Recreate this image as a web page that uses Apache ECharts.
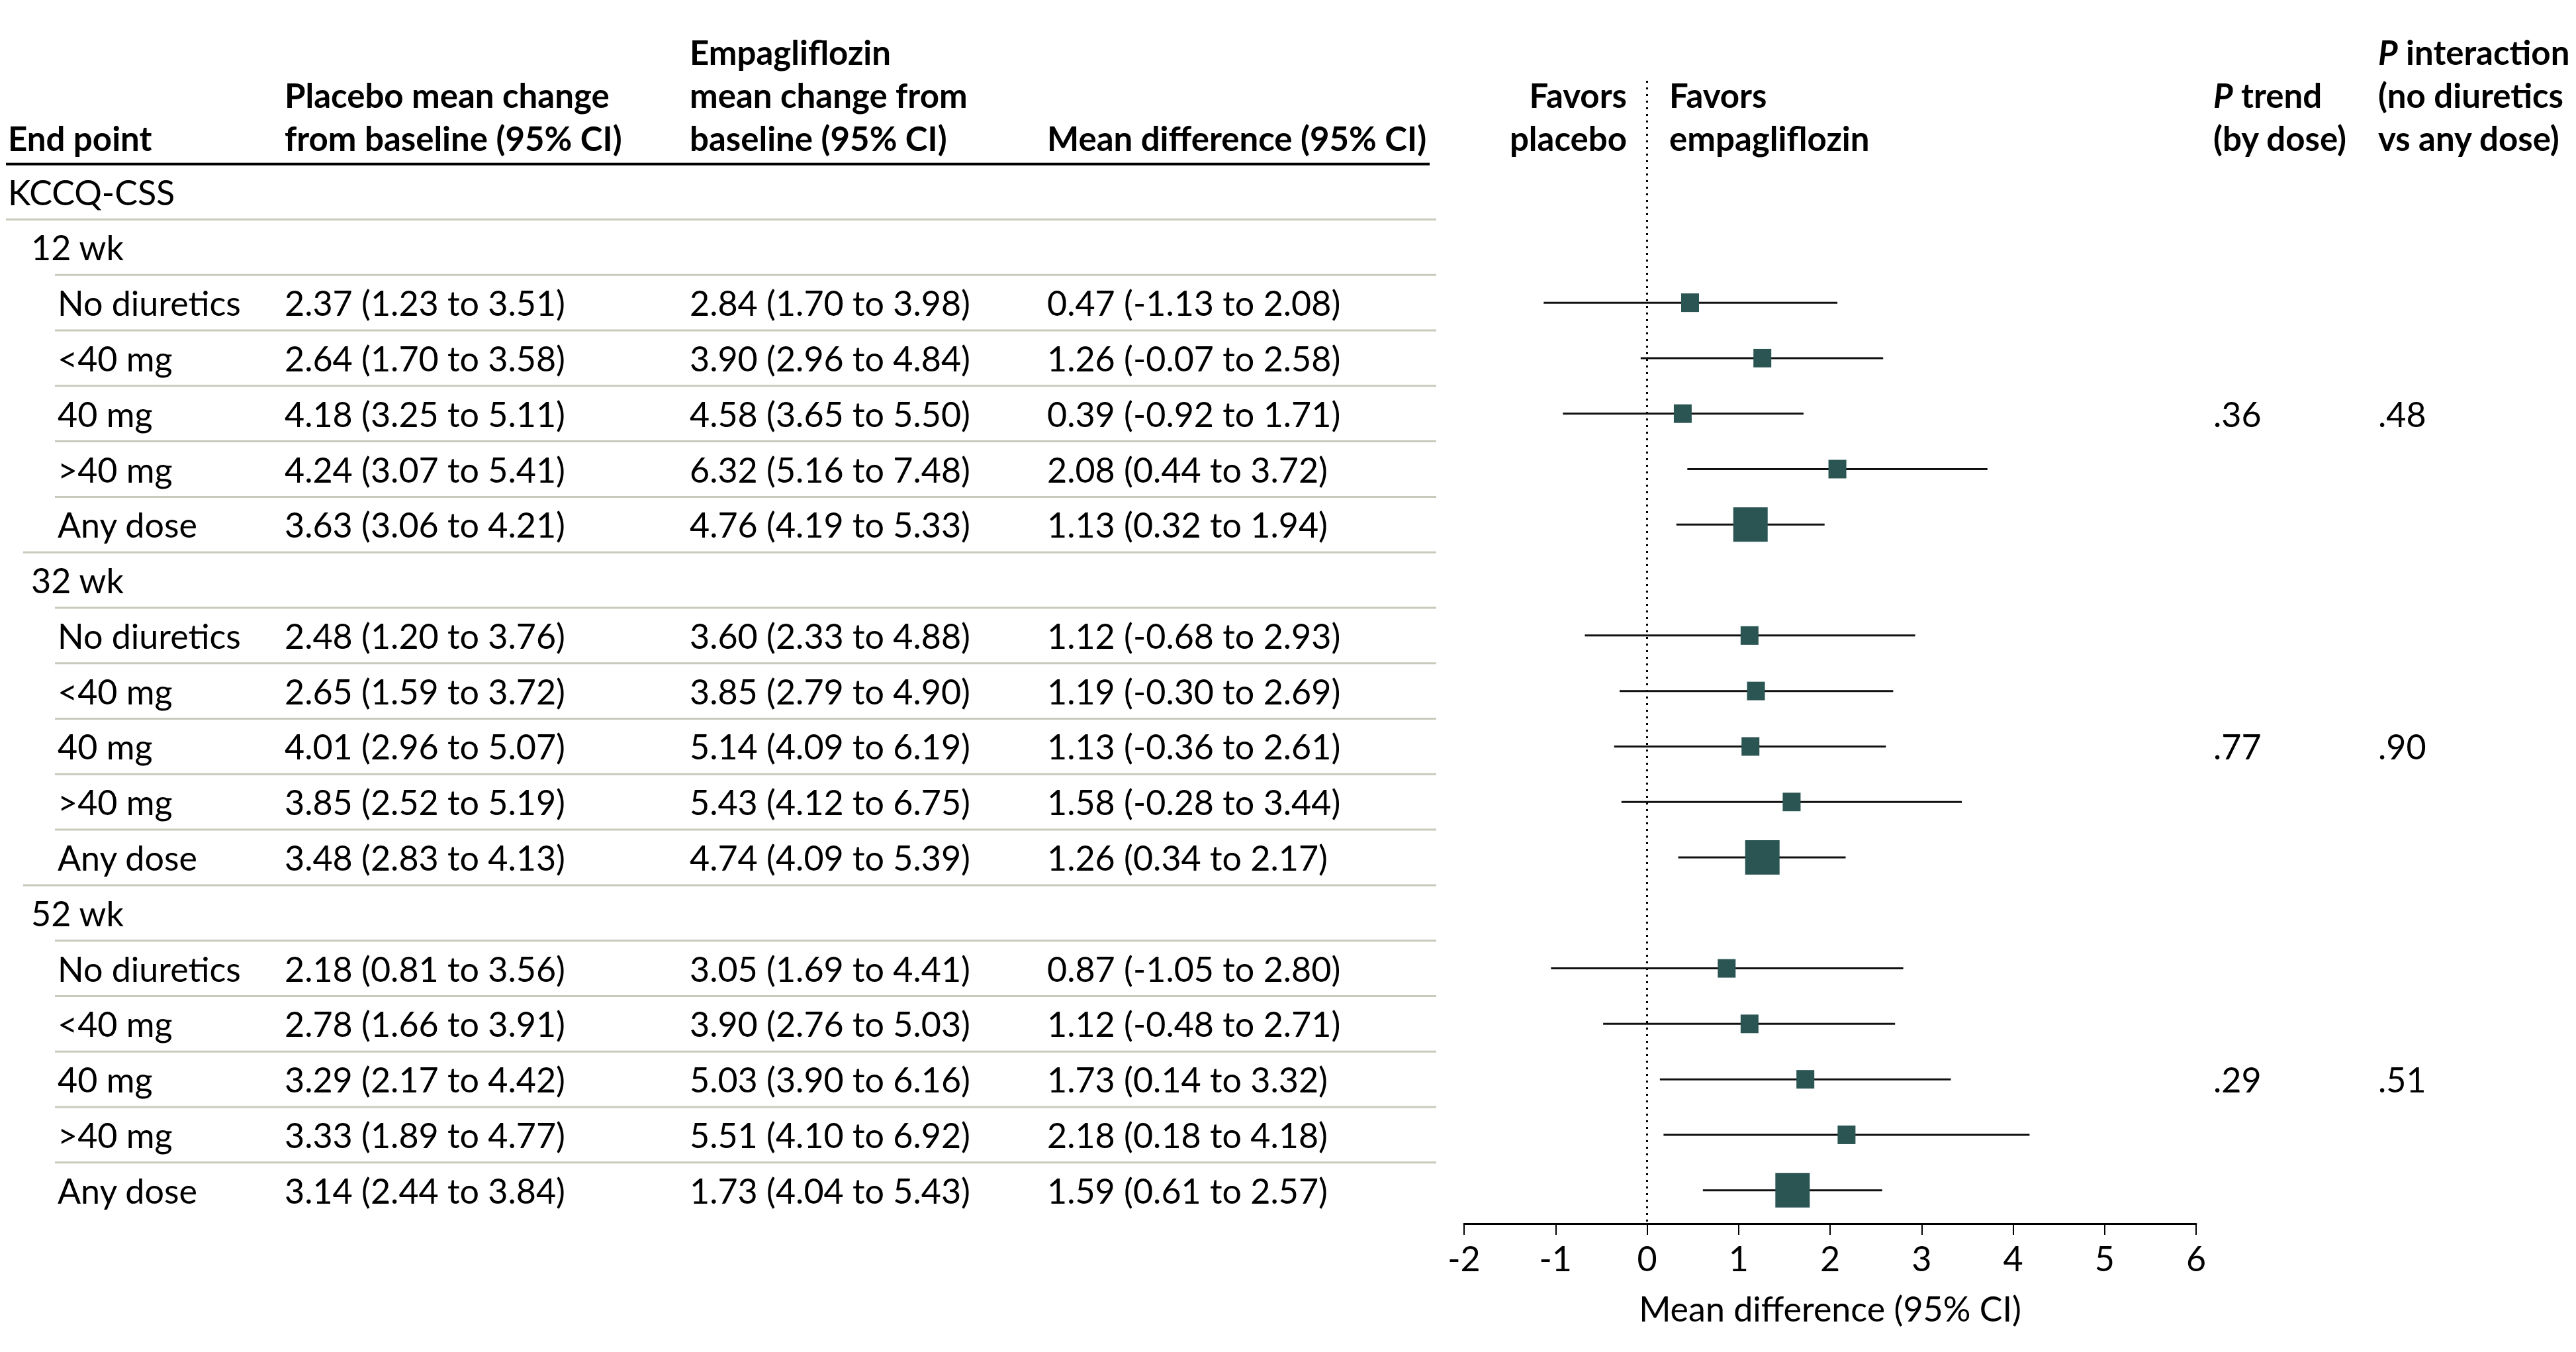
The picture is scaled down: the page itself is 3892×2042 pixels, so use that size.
<!DOCTYPE html>
<html><head><meta charset="utf-8">
<script src="https://cdn.jsdelivr.net/npm/echarts@6/dist/echarts.min.js"></script>
<style>html,body{margin:0;padding:0;background:#fff}#c{width:3892px;height:2042px}</style>
</head><body><div id="c"></div>
<script>
// ---------------- DATA ----------------
const endpointLabel = 'KCCQ-CSS';
const groupLabels = ['12 wk', '32 wk', '52 wk'];
const doseLabels = ['No diuretics', '<40 mg', '40 mg', '>40 mg', 'Any dose'];
// flat arrays in row order: 12 wk (5 doses), 32 wk (5), 52 wk (5)
const placeboMean = [2.37, 2.64, 4.18, 4.24, 3.63, 2.48, 2.65, 4.01, 3.85, 3.48, 2.18, 2.78, 3.29, 3.33, 3.14];
const placeboLow  = [1.23, 1.70, 3.25, 3.07, 3.06, 1.20, 1.59, 2.96, 2.52, 2.83, 0.81, 1.66, 2.17, 1.89, 2.44];
const placeboHigh = [3.51, 3.58, 5.11, 5.41, 4.21, 3.76, 3.72, 5.07, 5.19, 4.13, 3.56, 3.91, 4.42, 4.77, 3.84];
const empaMean = [2.84, 3.90, 4.58, 6.32, 4.76, 3.60, 3.85, 5.14, 5.43, 4.74, 3.05, 3.90, 5.03, 5.51, 1.73];
const empaLow  = [1.70, 2.96, 3.65, 5.16, 4.19, 2.33, 2.79, 4.09, 4.12, 4.09, 1.69, 2.76, 3.90, 4.10, 4.04];
const empaHigh = [3.98, 4.84, 5.50, 7.48, 5.33, 4.88, 4.90, 6.19, 6.75, 5.39, 4.41, 5.03, 6.16, 6.92, 5.43];
const diffMean = [0.47, 1.26, 0.39, 2.08, 1.13, 1.12, 1.19, 1.13, 1.58, 1.26, 0.87, 1.12, 1.73, 2.18, 1.59];
const diffLow  = [-1.13, -0.07, -0.92, 0.44, 0.32, -0.68, -0.30, -0.36, -0.28, 0.34, -1.05, -0.48, 0.14, 0.18, 0.61];
const diffHigh = [2.08, 2.58, 1.71, 3.72, 1.94, 2.93, 2.69, 2.61, 3.44, 2.17, 2.80, 2.71, 3.32, 4.18, 2.57];
const pTrend = ['.36', '.77', '.29'];
const pInteraction = ['.48', '.90', '.51'];
const pRowDose = '40 mg';
const xAxisMin = -2, xAxisMax = 6, xAxisStep = 1;
const xAxisTitle = 'Mean difference (95% CI)';

// ---------------- STYLE / LAYOUT ----------------
const FONT = 'Lato';
const FS = 52;
const HFS = 51;
const TEXT = '#000000';
const MARK = '#2a5553';
const RULE = '#c8cbbb';
const TOP = 122, BOTTOM = 194;            // shared vertical extent of row axes
const Y_MIN = -2, Y_MAX = 18.6;
const FOREST_LEFT = 2212, FOREST_RIGHT = 3892 - 3318;
const COL = { indent: [12, 47, 87], placebo: 430, empa: 1042, diff: 1582, pTrend: 3344, pInt: 3593 };
const RULE_END = 2170, HEAD_RULE_START = 9, HEAD_RULE_END = 2160;
const HEAD_Y = [78, 143, 208];

// ---------------- BUILD ROWS ----------------
const rows = [{ label: endpointLabel, level: 0, d: -1 }];
groupLabels.forEach((g, gi) => {
  rows.push({ label: g, level: 1, d: -1 });
  doseLabels.forEach((ds, k) => rows.push({ label: ds, level: 2, d: gi * doseLabels.length + k, g: gi, dose: ds }));
});
const fmt = (m, lo, hi) => m.toFixed(2) + ' (' + lo.toFixed(2) + ' to ' + hi.toFixed(2) + ')';

const chart = echarts.init(document.getElementById('c'), null, { renderer: 'svg', width: 3892, height: 2042 });

function tableRow(params, api) {
  const i = api.value(1);
  const r = rows[i];
  const cs = params.coordSys;
  const y = api.coord([0, i])[1];
  const t = (x, s) => ({ type: 'text', x: cs.x + x, y: y,
    style: { text: s, fill: TEXT, fontSize: FS, fontFamily: FONT, align: 'left', verticalAlign: 'middle' } });
  const ch = [t(COL.indent[r.level], r.label)];
  if (r.d >= 0) {
    const d = r.d;
    ch.push(t(COL.placebo, fmt(placeboMean[d], placeboLow[d], placeboHigh[d])));
    ch.push(t(COL.empa, fmt(empaMean[d], empaLow[d], empaHigh[d])));
    ch.push(t(COL.diff, fmt(diffMean[d], diffLow[d], diffHigh[d])));
    if (r.dose === pRowDose) {
      ch.push(t(COL.pTrend, pTrend[r.g]));
      ch.push(t(COL.pInt, pInteraction[r.g]));
    }
  }
  if (i === 0) {
    const yh = api.coord([0, i - 0.5])[1];
    ch.push({ type: 'line', shape: { x1: cs.x + HEAD_RULE_START, y1: yh, x2: cs.x + HEAD_RULE_END, y2: yh },
      style: { stroke: '#000', lineWidth: 4 } });
  }
  if (i < rows.length - 1) {
    const yb = api.coord([0, i + 0.5])[1];
    const next = rows[i + 1];
    const start = i === 0 ? 9 : (next.level === 1 ? 35 : 83);
    ch.push({ type: 'line', shape: { x1: cs.x + start, y1: yb, x2: cs.x + RULE_END, y2: yb },
      style: { stroke: RULE, lineWidth: 3 } });
  }
  return { type: 'group', children: ch };
}

function ciLine(params, api) {
  const row = api.value(2);
  const a = api.coord([api.value(0), row]);
  const b = api.coord([api.value(1), row]);
  return { type: 'line', shape: { x1: a[0], y1: a[1], x2: b[0], y2: b[1] },
    style: { stroke: '#111', lineWidth: 3 } };
}

const dataRows = rows.map((r, i) => ({ r, i })).filter(o => o.r.d >= 0);
const ciData = dataRows.map(o => [diffLow[o.r.d], diffHigh[o.r.d], o.i]);
const smallPts = dataRows.filter(o => o.r.dose !== 'Any dose').map(o => [diffMean[o.r.d], o.i]);
const bigPts = dataRows.filter(o => o.r.dose === 'Any dose').map(o => [diffMean[o.r.d], o.i]);

// header text
const bold = { fontSize: HFS, fontFamily: FONT, fontWeight: 'bold', fill: TEXT, verticalAlign: 'middle' };
const richP = { i: { fontStyle: 'italic', fontWeight: 'bold', fontSize: HFS, fontFamily: FONT, fill: TEXT } };
const headers = [
  [COL.indent[0], 2, 'End point', 'left'],
  [COL.placebo, 1, 'Placebo mean change', 'left'],
  [COL.placebo, 2, 'from baseline (95% CI)', 'left'],
  [COL.empa, 0, 'Empagliflozin', 'left'],
  [COL.empa, 1, 'mean change from', 'left'],
  [COL.empa, 2, 'baseline (95% CI)', 'left'],
  [COL.diff, 2, 'Mean difference (95% CI)', 'left'],
  [2458, 1, 'Favors', 'right'],
  [2458, 2, 'placebo', 'right'],
  [2522, 1, 'Favors', 'left'],
  [2522, 2, 'empagliflozin', 'left'],
  [COL.pTrend, 1, '{i|P} trend', 'left'],
  [COL.pTrend, 2, '(by dose)', 'left'],
  [COL.pInt, 0, '{i|P} interaction', 'left'],
  [COL.pInt, 1, '(no diuretics', 'left'],
  [COL.pInt, 2, 'vs any dose)', 'left']
];
const graphics = headers.map(h => ({ type: 'text', x: h[0], y: HEAD_Y[h[1]], silent: true,
  style: Object.assign({}, bold, { text: h[2], align: h[3], rich: richP }) }));

chart.setOption({
  animation: false,
  backgroundColor: '#fff',
  grid: [
    { left: FOREST_LEFT, right: FOREST_RIGHT, top: TOP, bottom: BOTTOM },
    { left: 0, right: 0, top: TOP, bottom: BOTTOM }
  ],
  xAxis: [
    { gridIndex: 0, type: 'value', min: xAxisMin, max: xAxisMax, interval: xAxisStep, position: 'bottom',
      axisLine: { show: true, onZero: false, lineStyle: { color: '#000', width: 3 } },
      axisTick: { show: true, length: 17, lineStyle: { color: '#000', width: 2 } },
      axisLabel: { color: TEXT, fontSize: FS, fontFamily: FONT, margin: 26 },
      splitLine: { show: false },
      name: xAxisTitle, nameLocation: 'middle', nameGap: 102,
      nameTextStyle: { color: TEXT, fontSize: FS, fontFamily: FONT } },
    { gridIndex: 1, type: 'value', min: 0, max: 1, show: false }
  ],
  yAxis: [
    { gridIndex: 0, type: 'value', min: Y_MIN, max: Y_MAX, inverse: true, show: false },
    { gridIndex: 1, type: 'value', min: Y_MIN, max: Y_MAX, inverse: true, show: false }
  ],
  series: [
    { type: 'custom', xAxisIndex: 1, yAxisIndex: 1, renderItem: tableRow, silent: true,
      data: rows.map((r, i) => [0, i]), encode: { x: 0, y: 1 } },
    { type: 'custom', xAxisIndex: 0, yAxisIndex: 0, renderItem: ciLine, silent: true, z: 3,
      data: ciData, encode: { x: [0, 1], y: 2 } },
    { type: 'scatter', xAxisIndex: 0, yAxisIndex: 0, symbol: 'rect', symbolSize: [27, 28], z: 4,
      itemStyle: { color: MARK, opacity: 1 }, data: smallPts, silent: true,
      markLine: { silent: true, symbol: 'none', label: { show: false }, z: 2,
        lineStyle: { color: '#000', width: 3, type: [3, 7], opacity: 1 }, data: [{ xAxis: 0 }] } },
    { type: 'scatter', xAxisIndex: 0, yAxisIndex: 0, symbol: 'rect', symbolSize: 52, z: 4,
      itemStyle: { color: MARK, opacity: 1 }, data: bigPts, silent: true }
  ],
  graphic: graphics
});
</script>
</body></html>
